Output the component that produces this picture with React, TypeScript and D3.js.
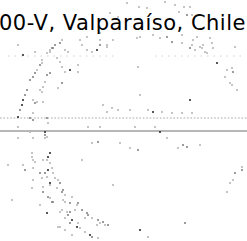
import React from "react";
import * as d3 from "d3";

// chart size
const W = 247;
const H = 241;

const title = "00-V, Valparaíso, Chile";

// sky-map samples: [x, y, hits] in projected plate units
const topFringe = [
  [127, 3, 1], [139, 7, 1], [147, 8, 1], [165, 2, 1], [175, 5, 1], [184, 7, 1],
  [190, 7, 1], [179, 12, 1], [187, 15, 2], [192, 15, 1], [110, 13, 1], [118, 17, 1],
  [87, 37, 1], [100, 33, 1],
];

const upperArc = [
  [55, 45, 2], [53, 48, 2], [50, 52, 1], [62, 40, 1], [60, 43, 2], [80, 40, 1],
  [82, 45, 1], [100, 40, 1], [100, 45, 2], [107, 45, 1], [113, 40, 1], [35, 52, 1],
  [42, 60, 1], [47, 53, 1], [50, 50, 1], [52, 48, 2], [65, 50, 1], [68, 52, 1],
  [87, 50, 1], [92, 52, 1], [97, 50, 3], [107, 47, 1], [137, 38, 1], [140, 37, 1],
  [153, 35, 1], [160, 38, 1], [167, 37, 2], [172, 42, 2], [182, 35, 1], [182, 43, 1],
  [197, 37, 1], [193, 40, 1], [192, 45, 1], [190, 48, 2], [195, 50, 1], [200, 47, 1],
  [203, 45, 1], [202, 48, 1], [210, 38, 1], [212, 43, 1], [213, 48, 1], [205, 52, 1],
  [207, 53, 1], [235, 47, 1],
];

const rightArc = [
  [217, 63, 3], [227, 70, 1], [232, 68, 1], [233, 72, 2], [225, 77, 1], [230, 83, 1],
  [232, 85, 1], [237, 90, 1], [242, 167, 1], [242, 170, 2], [235, 173, 2], [233, 180, 1],
  [230, 183, 1], [227, 192, 1], [185, 223, 2], [140, 230, 3], [148, 237, 1],
];

const leftArc = [
  [42, 63, 1], [40, 65, 2], [37, 70, 1], [35, 73, 2], [33, 77, 2], [30, 80, 2],
  [27, 90, 2], [25, 95, 2], [23, 100, 3], [22, 105, 3], [20, 110, 2], [18, 117, 3],
  [23, 55, 3], [18, 45, 1], [57, 58, 1], [60, 62, 1], [62, 67, 1], [65, 72, 1],
  [70, 70, 3], [47, 75, 2], [50, 73, 2], [45, 82, 1], [43, 87, 1], [40, 90, 1],
  [42, 92, 1], [33, 100, 1], [35, 103, 2], [37, 102, 1], [43, 102, 1], [62, 83, 2],
  [58, 88, 1], [78, 65, 1], [78, 72, 1],
];

const midField = [
  [30, 118, 2], [33, 120, 2], [47, 118, 2], [48, 123, 1], [33, 113, 1], [103, 105, 1],
  [107, 112, 1], [112, 108, 1], [118, 110, 1], [138, 67, 1], [140, 95, 1], [190, 100, 3],
  [130, 110, 1], [148, 110, 1], [153, 112, 3], [162, 112, 1], [172, 113, 1], [182, 113, 1],
  [192, 113, 1], [18, 127, 1], [18, 138, 1], [33, 138, 1], [45, 138, 1], [45, 135, 2],
  [88, 127, 1], [100, 127, 1], [135, 127, 1], [155, 127, 1], [160, 132, 3], [167, 138, 1],
  [30, 132, 1], [45, 132, 3], [47, 137, 1], [92, 143, 1], [98, 142, 2], [120, 143, 1],
  [130, 148, 1], [138, 150, 2], [178, 148, 1], [183, 145, 2], [187, 147, 2], [200, 145, 1],
];

const lowerBand = [
  [32, 153, 1], [32, 157, 1], [33, 160, 1], [35, 162, 1], [50, 153, 3], [48, 157, 3],
  [47, 160, 1], [43, 160, 1], [8, 165, 1], [23, 165, 1], [25, 170, 2], [33, 168, 1],
  [50, 163, 1], [52, 168, 1], [48, 170, 3], [53, 173, 1], [40, 173, 2], [45, 173, 2],
  [47, 177, 1], [42, 178, 1], [55, 178, 1], [58, 180, 1], [60, 183, 2], [50, 183, 3],
  [50, 185, 1], [33, 180, 1], [32, 188, 1], [43, 187, 1], [43, 192, 2], [57, 188, 1],
  [62, 192, 2], [63, 190, 2], [65, 195, 1], [48, 197, 2], [50, 198, 1], [52, 202, 2],
  [53, 202, 2], [63, 200, 1], [65, 202, 1], [12, 200, 1], [40, 205, 1], [72, 197, 1],
  [70, 203, 2], [77, 205, 1], [78, 203, 2], [82, 210, 2], [75, 210, 1], [62, 210, 1],
  [60, 212, 1], [47, 213, 3], [67, 212, 1], [68, 215, 2], [70, 212, 2], [87, 213, 2],
  [88, 215, 2], [85, 218, 1], [92, 218, 1], [65, 218, 1], [72, 220, 3], [70, 223, 2],
  [78, 223, 1], [98, 220, 2], [100, 223, 1], [103, 222, 2], [105, 225, 1], [108, 225, 2],
  [97, 225, 1], [58, 227, 1], [60, 227, 1], [77, 227, 3], [80, 228, 1], [65, 230, 1],
  [85, 232, 1], [90, 235, 3], [92, 237, 2], [98, 238, 1], [72, 235, 1], [113, 185, 1],
  [82, 160, 1],
];

// reference levels (plate units)
const horizonLevel = 131;
const twilightLevel = 118;
const limitLevel = 56;
const limitSpans = [[8, 117], [155, 243]];

export default function App() {
  const x = d3.scaleLinear().domain([0, 247]).range([0, W]);
  const y = d3.scaleLinear().domain([0, 241]).range([0, H]);
  const shade = d3.scaleLinear<string>().domain([1, 2, 3]).range(["#b8b8b8", "#858585", "#303030"]);

  const points = [...topFringe, ...upperArc, ...rightArc, ...leftArc, ...midField, ...lowerBand];
  const line = d3.line<number[]>().x((d) => x(d[0])).y((d) => y(d[1]));

  return (
    <svg
      width={W}
      height={H}
      style={{ position: "absolute", left: 0, top: 0, background: "#fff" }}
    >
      {limitSpans.map((s, i) => (
        <path
          key={i}
          d={line([[s[0], limitLevel], [s[1], limitLevel]]) || ""}
          stroke="#d0d0d0"
          strokeWidth={1}
          strokeDasharray="1.5,5"
          fill="none"
        />
      ))}
      <path
        d={line([[0, twilightLevel], [247, twilightLevel]]) || ""}
        stroke="#a8a8a8"
        strokeWidth={1}
        strokeDasharray="1.6,1.8"
        fill="none"
      />
      <path
        d={line([[0, horizonLevel], [247, horizonLevel]]) || ""}
        stroke="#6e6e6e"
        strokeWidth={1}
        fill="none"
      />
      {points.map((p, i) => (
        <rect
          key={i}
          x={x(p[0]) - 0.9}
          y={y(p[1]) - 0.9}
          width={1.8}
          height={1.8}
          fill={shade(p[2])}
        />
      ))}
      <text
        x={-1}
        y={29.5}
        fontFamily="DejaVu Sans"
        fontSize={21}
        letterSpacing={0.5}
        fill="#000"
      >
        {title}
      </text>
    </svg>
  );
}
